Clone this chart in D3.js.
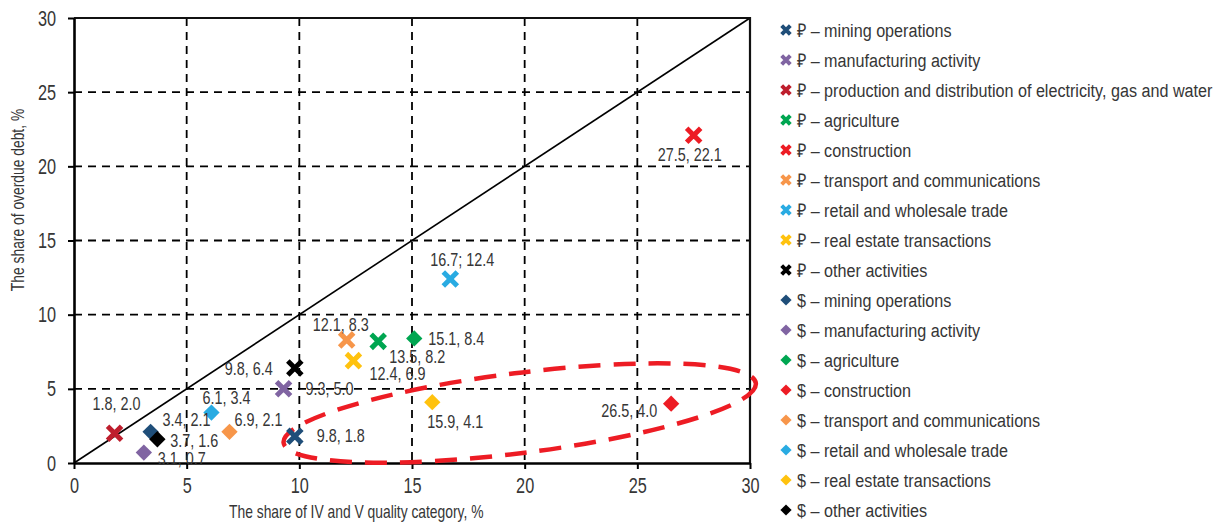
<!DOCTYPE html>
<html>
<head>
<meta charset="utf-8">
<script src="https://cdn.jsdelivr.net/npm/d3@7"></script>
<style>
  body { margin: 0; background: #fff; }
  text { font-family: "Liberation Sans", Arial, sans-serif; fill: #363636; }
</style>
</head>
<body>
<script>
"use strict";

// data ---------------------------------------------------------------
var sectors = ['mining operations', 'manufacturing activity',
  'production and distribution of electricity, gas and water', 'agriculture',
  'construction', 'transport and communications', 'retail and wholesale trade',
  'real estate transactions', 'other activities'];

var sector_colors = ['#1f4e79', '#8064a2', '#be1e2d', '#00a651', '#ed1c24',
  '#f7964a', '#29abe2', '#ffc20e', '#000000'];

// rouble loans: share of IV-V quality category, share of overdue debt
var rub_quality = [9.8, 9.3, 1.8, 13.5, 27.5, 12.1, 16.7, 12.4, 9.8];
var rub_overdue = [1.8, 5.0, 2.0, 8.2, 22.1, 8.3, 12.4, 6.9, 6.4];
var rub_labels = ['9.8, 1.8', '9.3, 5.0', '1.8, 2.0', '13.5, 8.2', '27.5, 22.1',
  '12.1, 8.3', '16.7; 12.4', '12.4, 6.9', '9.8, 6.4'];

// dollar loans (no electricity entry)
var usd_sectors = [0, 1, 3, 4, 5, 6, 7, 8];
var usd_quality = [3.4, 3.1, 15.1, 26.5, 6.9, 6.1, 15.9, 3.7];
var usd_overdue = [2.1, 0.7, 8.4, 4.0, 2.1, 3.4, 4.1, 1.6];
var usd_labels = ['3.4, 2.1', '3.1, 0.7', '15.1, 8.4', '26.5, 4.0', '6.9, 2.1',
  '6.1, 3.4', '15.9, 4.1', '3.7, 1.6'];

var ticks = [0, 5, 10, 15, 20, 25, 30];

// label placement (offsets in px from the marker), kept apart from the data
var rub_label_pos = [[22, 6, 'start'], [22, 6, 'start'], [2, -23, 'middle'],
  [11, 22, 'start'], [-4, 26, 'middle'], [-6, -9, 'middle'], [12, -13, 'middle'],
  [16, 19, 'start'], [-22, 7, 'end']];
var usd_label_pos = [[12, -6, 'start'], [14, 12, 'start'], [14, 7, 'start'],
  [-14, 13, 'end'], [5, -6, 'start'], [15, -9, 'middle'], [-5, 26, 'start'],
  [13, 8, 'start']];

var rows = [];
sectors.forEach((s, i) => rows.push({
  type: 'rub', sector: i, x: rub_quality[i], y: rub_overdue[i],
  label: rub_labels[i], pos: rub_label_pos[i]}));
usd_sectors.forEach((s, i) => rows.push({
  type: 'usd', sector: s, x: usd_quality[i], y: usd_overdue[i],
  label: usd_labels[i], pos: usd_label_pos[i]}));

// layout -------------------------------------------------------------
var W = 1222, H = 525,
  margin = {top: 18, left: 74},
  width = 676,
  height = 445;

// the original uses a condensed face; squeeze a normal one horizontally
function squeeze(sel, s) {
  sel.each(function() {
    var t = d3.select(this),
      tx = +t.attr('x') || 0,
      ty = +t.attr('y') || 0;
    t.attr('x', null).attr('y', null)
      .attr('transform', `translate(${tx}, ${ty}) scale(${s}, 1)`);
  });
}

var svg = d3.select('body').append('svg')
  .attr('width', W)
  .attr('height', H);

var g = svg.append('g')
  .attr('transform', `translate(${margin.left}, ${margin.top})`);

var x = d3.scaleLinear().domain([0, 30]).range([0, width]);
var y = d3.scaleLinear().domain([0, 30]).range([height, 0]);

// gridlines
g.append('g')
  .selectAll('line')
  .data(ticks.slice(1, -1))
  .join('line')
    .attr('x1', d => x(d)).attr('x2', d => x(d))
    .attr('y1', 0).attr('y2', height)
    .attr('stroke', '#000').attr('stroke-width', 1.8)
    .attr('stroke-dasharray', '8,6');

g.append('g')
  .selectAll('line')
  .data(ticks.slice(1, -1))
  .join('line')
    .attr('x1', 0).attr('x2', width)
    .attr('y1', d => y(d)).attr('y2', d => y(d))
    .attr('stroke', '#000').attr('stroke-width', 1.8)
    .attr('stroke-dasharray', '8,6');

// diagonal y = x
g.append('line')
  .attr('x1', x(0)).attr('y1', y(0))
  .attr('x2', x(30)).attr('y2', y(30))
  .attr('stroke', '#000').attr('stroke-width', 1.6);

// frame (top / right)
g.append('path')
  .attr('d', `M0,${y(30)}H${x(30)}V${y(0)}`)
  .attr('fill', 'none').attr('stroke', '#111').attr('stroke-width', 2.2);

// axes
var axis_x = g.append('g')
  .attr('transform', `translate(0, ${height})`)
  .call(d3.axisBottom(x).tickValues(ticks).tickSize(6).tickSizeOuter(0).tickPadding(8));

var axis_y = g.append('g')
  .call(d3.axisLeft(y).tickValues(ticks).tickSize(6).tickSizeOuter(0).tickPadding(12));

[axis_x, axis_y].forEach(a => {
  a.select('.domain').attr('stroke', '#000').attr('stroke-width', 2.6);
  a.selectAll('.tick line').attr('stroke', '#000').attr('stroke-width', 2);
  a.selectAll('.tick text')
    .style('font-family', '"Liberation Sans", Arial, sans-serif')
    .style('font-size', '22px')
    .attr('fill', '#363636')
    .call(squeeze, 0.74);
});

svg.append('text')
  .attr('x', 229).attr('y', 518)
  .style('font-size', '18px')
  .text('The share of IV and V quality category, %')
  .call(squeeze, 0.77);

svg.append('text')
  .attr('transform', 'translate(24, 200) rotate(-90) scale(0.77, 1)')
  .attr('text-anchor', 'middle')
  .style('font-size', '18px')
  .text('The share of overdue debt, %');

// highlight ellipse around the dollar outliers
var highlight = {cx: 19.78, cy: 3.37};
g.append('ellipse')
  .attr('cx', x(highlight.cx)).attr('cy', y(highlight.cy))
  .attr('rx', 238).attr('ry', 40)
  .attr('transform', `rotate(-7.2, ${x(highlight.cx)}, ${y(highlight.cy)})`)
  .attr('fill', 'none')
  .attr('stroke', '#ed1c24').attr('stroke-width', 4.5)
  .attr('stroke-dasharray', '22,13');

// markers
var sym_x = d3.symbol().type(d3.symbolX).size(130);
var sym_d = d3.symbol().type(d3.symbolDiamond2).size(170);

g.append('g')
  .selectAll('path')
  .data(rows)
  .join('path')
    .attr('d', d => d.type === 'rub' ? sym_x() : sym_d())
    .attr('transform', d => `translate(${x(d.x)}, ${y(d.y)})`)
    .attr('fill', d => d.type === 'rub' ? 'none' : sector_colors[d.sector])
    .attr('stroke', d => d.type === 'rub' ? sector_colors[d.sector] : 'none')
    .attr('stroke-width', 5);

g.append('g')
  .selectAll('text')
  .data(rows)
  .join('text')
    .attr('x', d => x(d.x) + d.pos[0])
    .attr('y', d => y(d.y) + d.pos[1])
    .attr('text-anchor', d => d.pos[2])
    .style('font-size', '18px')
    .text(d => d.label)
    .call(squeeze, 0.8);

// legend
var legend_items = sectors.map((s, i) => ({type: 'rub', sector: i, name: s}))
  .concat(usd_sectors.map(i => ({type: 'usd', sector: i, name: sectors[i]})));

var legend = svg.append('g')
  .attr('transform', 'translate(786, 30)');

var item = legend.selectAll('g')
  .data(legend_items)
  .join('g')
    .attr('transform', (d, i) => `translate(0, ${i * 30})`);

var leg_x = d3.symbol().type(d3.symbolX).size(50);
var leg_d = d3.symbol().type(d3.symbolDiamond2).size(80);

item.append('path')
  .attr('d', d => d.type === 'rub' ? leg_x() : leg_d())
  .attr('fill', d => d.type === 'rub' ? 'none' : sector_colors[d.sector])
  .attr('stroke', d => d.type === 'rub' ? sector_colors[d.sector] : 'none')
  .attr('stroke-width', 4);

item.append('text')
  .attr('x', 11)
  .attr('y', 7)
  .style('font-size', '19px')
  .text(d => (d.type === 'rub' ? '\u20BD' : '$') + ' \u2013 ' + d.name)
  .call(squeeze, 0.85);
</script>
</body>
</html>
